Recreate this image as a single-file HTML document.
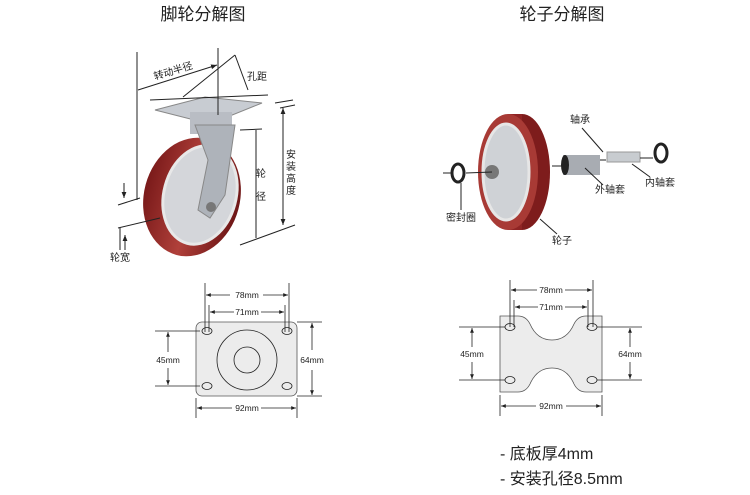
<!DOCTYPE html>
<html><head><meta charset="utf-8"><style>
html,body{margin:0;padding:0;background:#fff;}
svg{display:block;font-family:"Liberation Sans","Noto Sans CJK SC",sans-serif;}
</style></head><body>
<svg width="750" height="495" viewBox="0 0 750 495" xmlns="http://www.w3.org/2000/svg">
<defs>
<marker id="a" viewBox="0 0 10 10" refX="10" refY="5" markerWidth="6" markerHeight="6" orient="auto-start-reverse"><path d="M0,1 L10,5 L0,9 z" fill="#222"/></marker>
<linearGradient id="tire" x1="0" x2="1"><stop offset="0" stop-color="#7a1a1a"/><stop offset="0.5" stop-color="#b0403a"/><stop offset="1" stop-color="#6e1616"/></linearGradient>
</defs>
<text x="203" y="20" font-size="17" text-anchor="middle" fill="#222">脚轮分解图</text>
<text x="562" y="20" font-size="17" text-anchor="middle" fill="#222">轮子分解图</text>

<g>
<polygon points="155,110 205,97 262,103 210,124" fill="#c8ccd2" stroke="#888"/>
<rect x="190" y="112" width="42" height="22" fill="#b9bdc4"/>
<ellipse cx="192" cy="197" rx="48" ry="60" transform="rotate(15 192 197)" fill="url(#tire)"/>
<ellipse cx="200" cy="195" rx="36" ry="50" transform="rotate(15 200 195)" fill="#d4d6da" stroke="#e8e8e8" stroke-width="3"/>
<polygon points="195,125 235,125 225,195 210,218 198,210 208,160" fill="#aeb3ba" stroke="#888"/>
<circle cx="211" cy="207" r="5" fill="#777"/>
</g>
<g stroke="#222" stroke-width="1" fill="none">
<line x1="137" y1="52" x2="137" y2="200"/>
<line x1="218" y1="48" x2="218" y2="115"/>
<line x1="138" y1="90" x2="217" y2="65" marker-end="url(#a)"/>
<line x1="150" y1="100" x2="268" y2="95"/>
<line x1="235" y1="55" x2="183" y2="97"/>
<line x1="235" y1="55" x2="248" y2="90"/>
<line x1="275" y1="103" x2="293" y2="100"/>
<line x1="280" y1="108" x2="295" y2="105"/>
<line x1="283" y1="108" x2="283" y2="225" marker-start="url(#a)" marker-end="url(#a)"/>
<line x1="256" y1="130" x2="256" y2="238"/>
<line x1="240" y1="130" x2="262" y2="129"/>
<line x1="118" y1="205" x2="140" y2="198"/>
<line x1="118" y1="228" x2="160" y2="218"/>
<line x1="120" y1="228" x2="120" y2="250"/>
<line x1="125" y1="250" x2="125" y2="235" marker-end="url(#a)"/>
<line x1="124" y1="183" x2="124" y2="198" marker-end="url(#a)"/>
<line x1="240" y1="245" x2="295" y2="225"/>
</g>
<g font-size="10" fill="#222">
<text x="155" y="80" transform="rotate(-17 155 80)">转动半径</text>
<text x="247" y="80">孔距</text>
<text x="286" y="158">安</text><text x="286" y="170">装</text><text x="286" y="182">高</text><text x="286" y="194">度</text>
<text x="256" y="177">轮</text><text x="256" y="200">径</text>
<text x="110" y="261">轮宽</text>
</g>

<g>
<ellipse cx="522" cy="172" rx="28" ry="58" fill="#7e1c1c"/>
<rect x="508" y="114" width="14" height="116" fill="#8f2424"/>
<ellipse cx="508" cy="172" rx="30" ry="58" fill="#a83a35"/>
<ellipse cx="506" cy="172" rx="23" ry="48" fill="#cfd2d6" stroke="#e6e6e6" stroke-width="3"/>
<circle cx="492" cy="172" r="7" fill="#777"/>
<ellipse cx="458" cy="173" rx="6" ry="9" fill="none" stroke="#222" stroke-width="3"/>
<rect x="563" y="155" width="37" height="20" fill="#a8acb2"/>
<ellipse cx="565" cy="165" rx="4" ry="10" fill="#222"/>
<rect x="607" y="152" width="33" height="10" fill="#c8ccd0" stroke="#999"/>
<ellipse cx="661" cy="153" rx="6" ry="9" fill="none" stroke="#222" stroke-width="3"/>
</g>
<g stroke="#222" stroke-width="1">
<line x1="443" y1="173" x2="451" y2="173"/><line x1="466" y1="173" x2="492" y2="172"/>
<line x1="461" y1="183" x2="461" y2="210"/>
<line x1="552" y1="166" x2="562" y2="166"/>
<line x1="582" y1="128" x2="603" y2="152"/>
<line x1="600" y1="160" x2="606" y2="160"/>
<line x1="640" y1="158" x2="653" y2="158"/>
<line x1="585" y1="168" x2="603" y2="185"/>
<line x1="632" y1="164" x2="650" y2="177"/>
<line x1="540" y1="219" x2="557" y2="234"/>
</g>
<g font-size="10" fill="#222">
<text x="570" y="123">轴承</text>
<text x="595" y="193">外轴套</text>
<text x="645" y="186">内轴套</text>
<text x="446" y="221">密封圈</text>
<text x="552" y="244">轮子</text>
</g>

<g stroke="#222" stroke-width="0.8" fill="none" font-size="8.5">
<rect x="196" y="322" width="101" height="74" rx="6" fill="#ececec" stroke="#555"/>
<ellipse cx="207" cy="331" rx="5" ry="3.5"/><ellipse cx="287" cy="331" rx="5" ry="3.5"/>
<ellipse cx="207" cy="386" rx="5" ry="3.5"/><ellipse cx="287" cy="386" rx="5" ry="3.5"/>
<circle cx="247" cy="360" r="30"/><circle cx="247" cy="360" r="13"/>
<line x1="205" y1="283" x2="205" y2="332"/><line x1="289" y1="283" x2="289" y2="332"/>
<line x1="209" y1="305" x2="209" y2="332"/><line x1="285" y1="305" x2="285" y2="332"/>
<line x1="206" y1="295" x2="230" y2="295" marker-start="url(#a)"/><line x1="263" y1="295" x2="288" y2="295" marker-end="url(#a)"/>
<line x1="210" y1="312" x2="234" y2="312" marker-start="url(#a)"/><line x1="261" y1="312" x2="284" y2="312" marker-end="url(#a)"/>
<line x1="155" y1="331" x2="200" y2="331"/><line x1="155" y1="386" x2="200" y2="386"/>
<line x1="168" y1="332" x2="168" y2="352" marker-start="url(#a)"/><line x1="168" y1="368" x2="168" y2="385" marker-end="url(#a)"/>
<line x1="297" y1="322" x2="322" y2="322"/><line x1="297" y1="396" x2="322" y2="396"/>
<line x1="312" y1="323" x2="312" y2="350" marker-start="url(#a)"/><line x1="312" y1="370" x2="312" y2="395" marker-end="url(#a)"/>
<line x1="196" y1="398" x2="196" y2="418"/><line x1="297" y1="398" x2="297" y2="418"/>
<line x1="197" y1="408" x2="232" y2="408" marker-start="url(#a)"/><line x1="261" y1="408" x2="296" y2="408" marker-end="url(#a)"/>
</g>
<g font-size="8.5" fill="#222" text-anchor="middle">
<text x="247" y="298">78mm</text><text x="247" y="315">71mm</text>
<text x="168" y="363">45mm</text><text x="312" y="363">64mm</text><text x="247" y="411">92mm</text>
</g>

<g stroke="#222" stroke-width="0.8" fill="none">
<path d="M500,316 H518 Q526,316 530,324 Q537,340 552,340 Q567,340 574,324 Q578,316 586,316 H602 V392 H586 Q578,392 574,384 Q567,368 552,368 Q537,368 530,384 Q526,392 518,392 H500 Z" fill="#ececec" stroke="#555"/>
<ellipse cx="510" cy="327" rx="5" ry="3.5"/><ellipse cx="592" cy="327" rx="5" ry="3.5"/>
<ellipse cx="510" cy="380" rx="5" ry="3.5"/><ellipse cx="592" cy="380" rx="5" ry="3.5"/>
<line x1="510" y1="280" x2="510" y2="327"/><line x1="593" y1="280" x2="593" y2="327"/>
<line x1="514" y1="300" x2="514" y2="327"/><line x1="588" y1="300" x2="588" y2="327"/>
<line x1="511" y1="290" x2="537" y2="290" marker-start="url(#a)"/><line x1="565" y1="290" x2="592" y2="290" marker-end="url(#a)"/>
<line x1="515" y1="307" x2="538" y2="307" marker-start="url(#a)"/><line x1="565" y1="307" x2="587" y2="307" marker-end="url(#a)"/>
<line x1="459" y1="327" x2="505" y2="327"/><line x1="459" y1="380" x2="505" y2="380"/>
<line x1="472" y1="328" x2="472" y2="347" marker-start="url(#a)"/><line x1="472" y1="362" x2="472" y2="379" marker-end="url(#a)"/>
<line x1="597" y1="327" x2="642" y2="327"/><line x1="597" y1="380" x2="642" y2="380"/>
<line x1="630" y1="328" x2="630" y2="347" marker-start="url(#a)"/><line x1="630" y1="362" x2="630" y2="379" marker-end="url(#a)"/>
<line x1="500" y1="395" x2="500" y2="416"/><line x1="602" y1="395" x2="602" y2="416"/>
<line x1="501" y1="406" x2="536" y2="406" marker-start="url(#a)"/><line x1="566" y1="406" x2="601" y2="406" marker-end="url(#a)"/>
</g>
<g font-size="8.5" fill="#222" text-anchor="middle">
<text x="551" y="293">78mm</text><text x="551" y="310">71mm</text>
<text x="472" y="357">45mm</text><text x="630" y="357">64mm</text><text x="551" y="409">92mm</text>
</g>

<text x="500" y="459" font-size="16" fill="#222">-  底板厚4mm</text>
<text x="500" y="484" font-size="16" fill="#222">-  安装孔径8.5mm</text>
</svg>
</body></html>
